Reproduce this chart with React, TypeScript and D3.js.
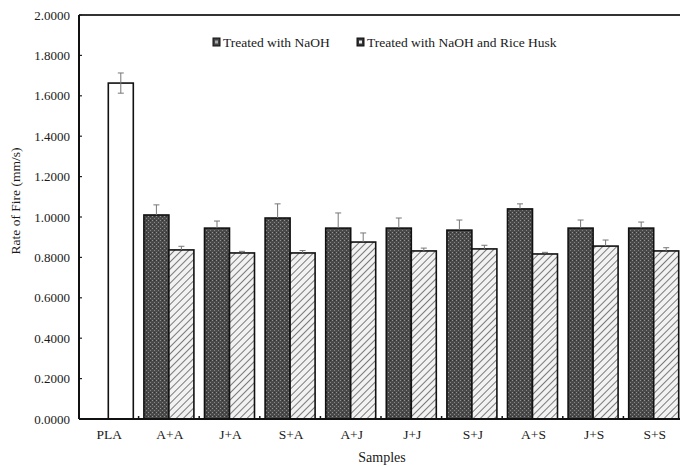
import React from "react";
import * as d3 from "d3";

const categories = ["PLA", "A+A", "J+A", "S+A", "A+J", "J+J", "S+J", "A+S", "J+S", "S+S"];
const naohValues = [null, 1.01, 0.945, 0.995, 0.945, 0.945, 0.935, 1.04, 0.945, 0.945];
const naohErrors = [null, 0.05, 0.035, 0.07, 0.075, 0.05, 0.05, 0.025, 0.04, 0.03];
const huskValues = [1.663, 0.837, 0.822, 0.822, 0.876, 0.832, 0.842, 0.817, 0.856, 0.832];
const huskErrors = [0.05, 0.018, 0.008, 0.012, 0.045, 0.014, 0.018, 0.008, 0.03, 0.016];
const yTicks = [0, 0.2, 0.4, 0.6, 0.8, 1.0, 1.2, 1.4, 1.6, 1.8, 2.0];
const legendLabels = ["Treated with NaOH", "Treated with NaOH and Rice Husk"];

const W = 680;
const H = 467;
const left = 79;
const top = 15;
const bottom = 419;
const FONT = "Liberation Serif, DejaVu Serif, serif";

export default function App() {
  const x = d3.scaleBand<string>().domain(categories).range([78, 684]).paddingInner(0).paddingOuter(0);
  const y = d3.scaleLinear().domain([0, 2]).range([bottom, top]);
  const step = x.step();
  const barW = 25;
  const groupOffset = (step - 2 * barW) / 2;

  return (
    <svg width={W} height={H} style={{ position: "absolute", left: 0, top: 0, background: "#fff" }}>
      <defs>
        <pattern id="darkPat" width="4" height="4" patternUnits="userSpaceOnUse">
          <rect width="4" height="4" fill="#4a4a4a" />
          <rect x="0" y="0" width="1" height="1" fill="#959595" />
          <rect x="2" y="2" width="1" height="1" fill="#858585" />
          <rect x="2" y="0" width="1" height="1" fill="#333" />
        </pattern>
        <pattern id="hatchPat" width="5" height="5" patternUnits="userSpaceOnUse" patternTransform="rotate(45)">
          <rect width="5" height="5" fill="#f2f2f2" />
          <line x1="0" y1="0" x2="0" y2="5" stroke="#7a7a7a" strokeWidth="2" />
        </pattern>
      </defs>

      {/* top border */}
      <line x1={left} x2={W} y1={top} y2={top} stroke="#333" strokeWidth={2} />

      {/* y ticks & labels */}
      {yTicks.map((t) => (
        <g key={t}>
          <line x1={left} x2={left + 3} y1={y(t)} y2={y(t)} stroke="#222" strokeWidth={1.2} />
          <text x={70} y={y(t)} dy="0.35em" textAnchor="end" fontFamily={FONT} fontSize={13} fill="#1a1a1a">
            {t.toFixed(4)}
          </text>
        </g>
      ))}

      {/* bars */}
      {categories.map((c, i) => {
        const x0 = (x(c) as number) + groupOffset;
        const nv = naohValues[i];
        const hv = huskValues[i];
        const isPLA = c === "PLA";
        return (
          <g key={c}>
            {nv !== null && (
              <rect x={x0} y={y(nv)} width={barW} height={bottom - y(nv)} fill="url(#darkPat)" stroke="#111" strokeWidth={1.6} />
            )}
            <rect
              x={x0 + barW}
              y={y(hv)}
              width={barW}
              height={bottom - y(hv)}
              fill={isPLA ? "#fff" : "url(#hatchPat)"}
              stroke="#111"
              strokeWidth={1.6}
            />
          </g>
        );
      })}

      {/* error bars */}
      {categories.map((c, i) => {
        const x0 = (x(c) as number) + groupOffset;
        const items: { cx: number; v: number; e: number; full: boolean }[] = [];
        const nv = naohValues[i];
        const ne = naohErrors[i];
        if (nv !== null && ne !== null) items.push({ cx: x0 + barW / 2, v: nv, e: ne, full: false });
        items.push({ cx: x0 + barW * 1.5, v: huskValues[i], e: huskErrors[i], full: c === "PLA" });
        return (
          <g key={"e" + c}>
            {items.map((it, k) => (
              <g key={k} stroke="#777" strokeWidth={1}>
                <line x1={it.cx} x2={it.cx} y1={y(it.v + it.e)} y2={it.full ? y(it.v - it.e) : y(it.v)} />
                <line x1={it.cx - 3} x2={it.cx + 3} y1={y(it.v + it.e)} y2={y(it.v + it.e)} />
                {it.full && <line x1={it.cx - 3} x2={it.cx + 3} y1={y(it.v - it.e)} y2={y(it.v - it.e)} />}
              </g>
            ))}
          </g>
        );
      })}

      {/* axes */}
      <line x1={left} x2={left} y1={top} y2={bottom} stroke="#111" strokeWidth={2} />
      <line x1={left} x2={W} y1={bottom} y2={bottom} stroke="#111" strokeWidth={2} />
      {categories.slice(1).map((c) => (
        <line key={"t" + c} x1={x(c) as number} x2={x(c) as number} y1={bottom} y2={bottom - 3} stroke="#111" strokeWidth={1.5} />
      ))}

      {/* x labels */}
      {categories.map((c) => (
        <text key={"l" + c} x={(x(c) as number) + step / 2 + 1} y={434} dy="0.35em" textAnchor="middle" fontFamily={FONT} fontSize={13.5} fill="#1a1a1a">
          {c}
        </text>
      ))}

      <text x={382} y={457} dy="0.35em" textAnchor="middle" fontFamily={FONT} fontSize={14} fill="#1a1a1a">
        Samples
      </text>
      <text
        transform={`translate(15,${201}) rotate(-90)`}
        textAnchor="middle"
        dy="0.35em"
        fontFamily={FONT}
        fontSize={13.5}
        fill="#1a1a1a"
      >
        Rate of Fire (mm/s)
      </text>

      {/* legend */}
      <g>
        <rect x={213} y={38} width={7} height={8} fill="#444" stroke="#111" strokeWidth={1} />
        <rect x={215} y={40.5} width={3} height={3} fill="#aaa" />
        <text x={223} y={42} dy="0.35em" fontFamily={FONT} fontSize={13.5} fill="#1a1a1a">
          {legendLabels[0]}
        </text>
        <rect x={357} y={38} width={7} height={8} fill="#333" stroke="#111" strokeWidth={1} />
        <rect x={359} y={40.5} width={3} height={3} fill="#eee" />
        <text x={367} y={42} dy="0.35em" fontFamily={FONT} fontSize={13.5} fill="#1a1a1a">
          {legendLabels[1]}
        </text>
      </g>
    </svg>
  );
}
